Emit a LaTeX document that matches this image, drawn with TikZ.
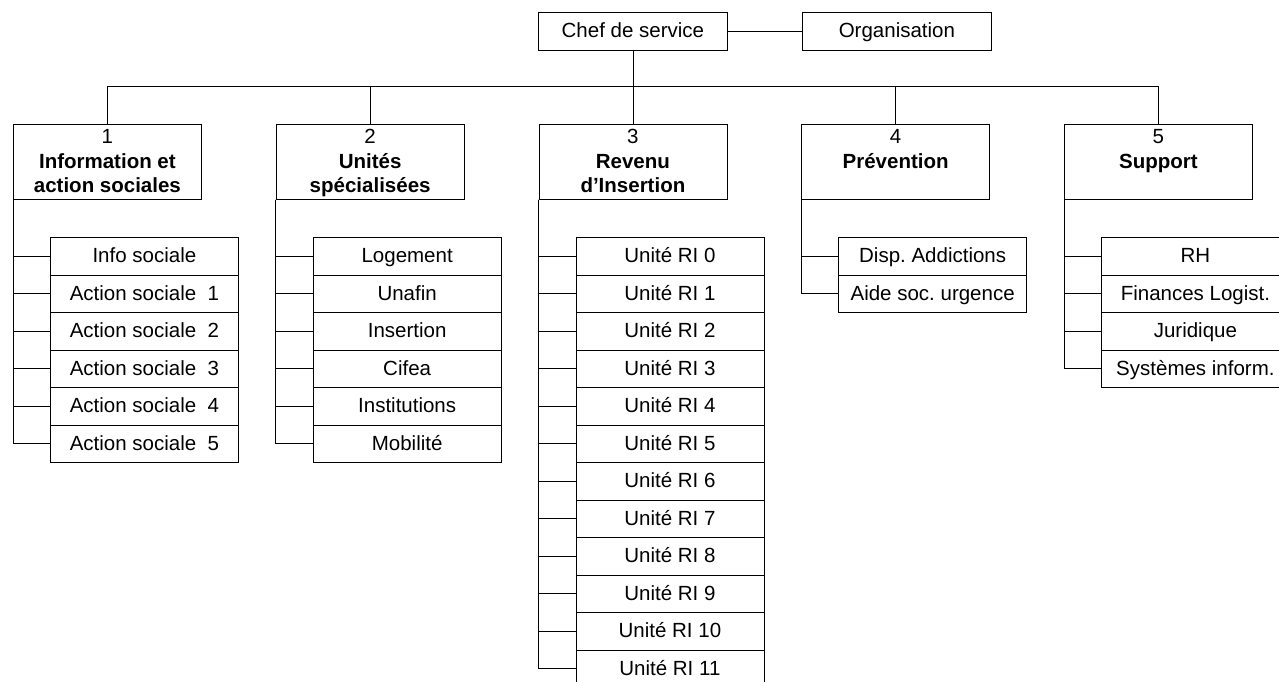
\documentclass[tikz,border=0pt]{standalone}
\usepackage{fontspec}
\setmainfont{Liberation Sans}

% title of a department box: number, then bold name, top aligned
\newcommand{\grptitle}[2]{\parbox[t][75pt][t]{188pt}{\vspace*{5pt}\centering #1\\\bfseries #2}}

\tikzset{
	topbox/.style = {draw, anchor=north west, minimum width=189pt, minimum height=38pt, inner sep=0pt,
	                 text height=16pt, text depth=3pt},
	grpbox/.style = {draw, anchor=north west, inner sep=0pt},
	rowbox/.style = {draw, anchor=north west, minimum width=188pt, minimum height=37.5pt, inner sep=0pt,
	                 text height=16pt, text depth=3pt}
}

\begin{document}
\frenchspacing
\fontsize{20.5}{24.5}\selectfont
\begin{tikzpicture}[x=1pt, y=-1pt, line width=0.8pt]

	\clip (0,0) rectangle (1279,681);

	% head of the service
	\node [topbox] (chef) at (538,12) {Chef de service};
	\node [topbox] (orga) at (802,12) {Organisation};
	\draw (chef) -- (orga);

	% the five departments
	\node [grpbox] (g1) at (13,124)     {\grptitle{1}{Information et\\action sociales}};
	\node [grpbox] (g2) at (275.75,124) {\grptitle{2}{Unités\\spécialisées}};
	\node [grpbox] (g3) at (538.5,124)  {\grptitle{3}{Revenu\\d’Insertion}};
	\node [grpbox] (g4) at (801.25,124) {\grptitle{4}{Prévention}};
	\node [grpbox] (g5) at (1064,124)   {\grptitle{5}{Support}};

	% bus from the head to the departments
	\draw (chef.south) -- ++(0,36) coordinate (bus);
	\draw (g1.north) |- (bus) -| (g5.north);
	\foreach \g in {2,3,4}
		\draw (g\g.north) -- (g\g.north |- bus);

	% units of each department
	\foreach \t [count=\k] in {Info sociale, Action sociale~~1, Action sociale~~2,
			Action sociale~~3, Action sociale~~4, Action sociale~~5} {
		\node [rowbox] (a\k) at (50,199.5+37.5*\k) {\t};
		\draw (g1.south west) |- (a\k.west);
	}

	\foreach \t [count=\k] in {Logement, Unafin, Insertion, Cifea, Institutions, Mobilité} {
		\node [rowbox] (b\k) at (312.75,199.5+37.5*\k) {\t};
		\draw (g2.south west) |- (b\k.west);
	}

	\foreach \n [count=\k] in {0,...,11} {
		\node [rowbox] (c\k) at (575.5,199.5+37.5*\k) {Unité RI \n};
		\draw (g3.south west) |- (c\k.west);
	}

	\foreach \t [count=\k] in {Disp. Addictions, Aide soc. urgence} {
		\node [rowbox] (d\k) at (838.25,199.5+37.5*\k) {\t};
		\draw (g4.south west) |- (d\k.west);
	}

	\foreach \t [count=\k] in {RH, Finances Logist., Juridique, Systèmes inform.} {
		\node [rowbox] (e\k) at (1101,199.5+37.5*\k) {\t};
		\draw (g5.south west) |- (e\k.west);
	}

\end{tikzpicture}
\end{document}
